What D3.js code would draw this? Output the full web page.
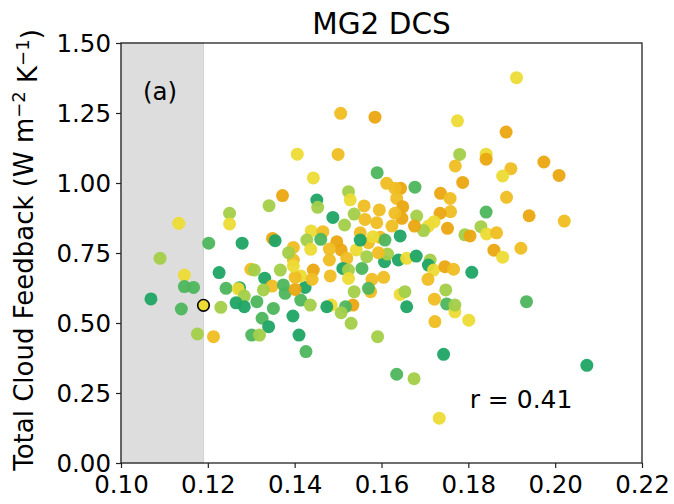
<!DOCTYPE html>
<html>
<head>
<meta charset="utf-8">
<script src="https://d3js.org/d3.v7.min.js"></script>
<style>
body { margin: 0; background: #fff; }
text { font-family: "DejaVu Sans", sans-serif; fill: #000; }
</style>
</head>
<body>
<svg id="chart" width="674" height="504"></svg>
<script>
// values
var xVals = [0.1506,0.1585,0.1775,0.1406,0.1500,0.1780,0.1770,0.1590,0.1443,0.1787,
  0.1612,0.1644,0.1631,0.1677,0.1524,0.1736,0.1758,0.1372,0.1451,0.1528,
  0.1635,0.1911,0.1887,0.1841,0.1841,0.1898,0.1879,0.1974,0.2009,0.1888,
  0.1841,0.1940,0.2021,0.1829,0.1792,0.1804,0.1842,0.1865,0.1859,0.1879,
  0.1921,0.1808,0.1934,0.1801,0.2073,0.1453,0.1560,0.1595,0.1649,0.1647,
  0.1631,0.1759,0.1735,0.1681,0.1488,0.1537,0.1562,0.1589,0.1515,0.1721,
  0.1708,0.1697,0.1752,0.1624,0.1676,0.1643,0.1551,0.1438,0.1465,0.1428,
  0.1460,0.1437,0.1397,0.1497,0.1507,0.1480,0.1542,0.1570,0.1597,0.1608,
  0.1580,0.1520,0.1480,0.1566,0.1607,0.1614,0.1593,0.1639,0.1658,0.1680,
  0.1712,0.1708,0.1720,0.1746,0.1766,0.1707,0.1748,0.1722,0.1750,0.1769,
  0.1723,0.1578,0.1605,0.1575,0.1643,0.1654,0.1658,0.1537,0.1570,0.1534,
  0.1517,0.1507,0.1484,0.1474,0.1530,0.1396,0.1410,0.1414,0.1436,0.1378,
  0.1424,0.1401,0.1443,0.1414,0.1401,0.1440,0.1397,0.1397,0.1511,0.1482,
  0.1524,0.1524,0.1555,0.1769,0.1551,0.1426,0.1591,0.1743,0.1635,0.1675,
  0.1733,0.1133,0.1090,0.1146,0.1146,0.1167,0.1069,0.1139,0.1202,0.1279,
  0.1250,0.1250,0.1341,0.1349,0.1355,0.1226,0.1299,0.1307,0.1367,0.1331,
  0.1242,0.1273,0.1270,0.1348,0.1374,0.1328,0.1284,0.1313,0.1265,0.1284,
  0.1230,0.1351,0.1325,0.1340,0.1176,0.1213,0.1301,0.1319,0.1386];
var yVals = [1.249,1.235,1.222,1.103,1.102,1.102,1.061,1.037,1.018,1.002,
  0.999,0.981,0.981,0.985,0.969,0.963,0.945,0.955,0.939,0.940,
  0.945,1.376,1.182,1.103,1.085,1.051,1.025,1.075,1.027,0.949,
  0.896,0.883,0.864,0.844,0.815,0.811,0.818,0.822,0.760,0.735,
  0.767,0.681,0.576,0.510,0.349,0.913,0.918,0.904,0.915,0.874,
  0.892,0.898,0.892,0.882,0.877,0.889,0.870,0.858,0.850,0.862,
  0.846,0.830,0.838,0.846,0.846,0.811,0.822,0.829,0.826,0.796,
  0.799,0.763,0.770,0.790,0.761,0.764,0.761,0.787,0.806,0.796,
  0.808,0.731,0.725,0.737,0.719,0.746,0.751,0.725,0.731,0.739,
  0.725,0.707,0.689,0.701,0.692,0.656,0.618,0.585,0.568,0.540,
  0.505,0.656,0.663,0.612,0.602,0.612,0.558,0.612,0.624,0.564,
  0.558,0.537,0.564,0.558,0.499,0.525,0.457,0.582,0.564,0.606,
  0.627,0.620,0.689,0.668,0.663,0.656,0.725,0.704,0.695,0.668,
  0.689,0.659,0.695,0.564,0.796,0.398,0.451,0.388,0.317,0.301,
  0.160,0.856,0.731,0.671,0.630,0.627,0.586,0.550,0.785,0.785,
  0.892,0.854,0.919,0.802,0.794,0.680,0.692,0.689,0.689,0.660,
  0.624,0.626,0.622,0.632,0.636,0.618,0.596,0.576,0.572,0.558,
  0.556,0.552,0.517,0.487,0.461,0.451,0.457,0.457,0.751];
// colour parameter, 0 = dark green ... 1 = orange
var cVals = [0.82,0.97,0.65,0.65,0.82,0.45,0.82,0.25,0.65,0.97,
  0.82,0.97,0.82,0.25,0.45,0.97,0.82,0.97,0.05,0.65,
  0.82,0.65,0.97,0.65,0.97,0.82,0.65,0.97,0.97,0.82,
  0.25,0.97,0.82,0.45,0.45,0.97,0.65,0.82,0.97,0.65,
  0.82,0.05,0.25,0.65,0.05,0.45,0.82,0.82,0.97,0.97,
  0.82,0.82,0.97,0.45,0.05,0.45,0.82,0.82,0.45,0.65,
  0.65,0.45,0.97,0.82,0.97,0.05,0.82,0.65,0.82,0.45,
  0.25,0.65,0.82,0.97,0.97,0.82,0.65,0.82,0.82,0.25,
  0.65,0.82,0.82,0.45,0.05,0.45,0.82,0.05,0.65,0.05,
  0.45,0.05,0.65,0.97,0.82,0.82,0.45,0.82,0.25,0.65,
  0.82,0.82,0.82,0.82,0.65,0.45,0.05,0.45,0.25,0.97,
  0.25,0.45,0.65,0.05,0.45,0.05,0.05,0.25,0.45,0.25,
  0.05,0.97,0.97,0.65,0.82,0.82,0.82,0.65,0.05,0.82,
  0.45,0.65,0.25,0.45,0.05,0.25,0.45,0.05,0.25,0.45,
  0.65,0.65,0.45,0.65,0.25,0.25,0.05,0.25,0.25,0.05,
  0.45,0.65,0.45,0.97,0.05,0.05,0.82,0.45,0.45,0.05,
  0.25,0.05,0.65,0.82,0.25,0.45,0.45,0.25,0.05,0.05,
  0.45,0.25,0.25,0.05,0.45,0.82,0.25,0.45,0.45];
var highlightX = [0.1190], highlightY = [0.563], highlightC = [0.65];
var xTicks = [0.10, 0.12, 0.14, 0.16, 0.18, 0.20, 0.22];
var yTicks = [0.00, 0.25, 0.50, 0.75, 1.00, 1.25, 1.50];
var shadeRange = [0.10, 0.119];

var margin = {top: 43, right: 32, bottom: 41, left: 121},
    width = 674 - margin.left - margin.right,
    height = 504 - margin.top - margin.bottom;

var svg = d3.select("#chart");
var g = svg.append("g").attr("transform", "translate(" + margin.left + "," + margin.top + ")");

var x = d3.scaleLinear().domain([0.10, 0.22]).range([0, width]);
var y = d3.scaleLinear().domain([0, 1.5]).range([height, 0]);
var colour = d3.scaleLinear()
    .domain([0, 0.25, 0.45, 0.65, 0.82, 1])
    .range(["#13a067", "#4db55c", "#a3cf49", "#ecdb34", "#efbe22", "#e9a20c"]);

// shaded band
g.append("rect")
    .attr("x", x(shadeRange[0]))
    .attr("y", 0)
    .attr("width", x(shadeRange[1]) - x(shadeRange[0]))
    .attr("height", height)
    .attr("fill", "#dddddd")
    .attr("stroke", "#d2d2d2");

var pts = xVals.map(function(d, i) { return {x: d, y: yVals[i], c: cVals[i]}; });

g.selectAll(".dot")
    .data(pts)
  .enter().append("circle")
    .attr("class", "dot")
    .attr("cx", function(d) { return x(d.x); })
    .attr("cy", function(d) { return y(d.y); })
    .attr("r", 6.5)
    .attr("fill", function(d) { return colour(d.c); })
    .attr("fill-opacity", 0.95);

g.selectAll(".hl")
    .data(highlightX)
  .enter().append("circle")
    .attr("class", "hl")
    .attr("cx", function(d) { return x(d); })
    .attr("cy", function(d, i) { return y(highlightY[i]); })
    .attr("r", 5.8)
    .attr("fill", function(d, i) { return colour(highlightC[i]); })
    .attr("stroke", "#000")
    .attr("stroke-width", 1.6);

// axes
var xAxis = g.append("g")
    .attr("transform", "translate(0," + height + ")")
    .call(d3.axisBottom(x).tickValues(xTicks).tickFormat(d3.format(".2f")).tickSize(5).tickPadding(8));
var yAxis = g.append("g")
    .call(d3.axisLeft(y).tickValues(yTicks).tickFormat(d3.format(".2f")).tickSize(5).tickPadding(5));

[xAxis, yAxis].forEach(function(a) {
  a.select(".domain").remove();
  a.selectAll(".tick line").attr("stroke", "#222").attr("stroke-width", 1.2);
  a.selectAll(".tick text").style("font-size", "24.5px").attr("fill", "#000");
});
yAxis.selectAll(".tick text").attr("dy", "0.33em");

// frame
g.append("rect")
    .attr("width", width)
    .attr("height", height)
    .attr("fill", "none")
    .attr("stroke", "#222")
    .attr("stroke-width", 1.3);

// title
svg.append("text")
    .attr("x", margin.left + width / 2)
    .attr("y", 34)
    .attr("text-anchor", "middle")
    .style("font-size", "29.5px")
    .text("MG2 DCS");

// y label
var yl = svg.append("text")
    .attr("transform", "translate(33," + 250 + ") rotate(-90)")
    .attr("text-anchor", "middle")
    .style("font-size", "26px");
yl.append("tspan").text("Total Cloud Feedback (W m");
yl.append("tspan").attr("dy", "-0.45em").style("font-size", "18px").text("\u22122");
yl.append("tspan").attr("dy", "0.45em").text(" K");
yl.append("tspan").attr("dy", "-0.45em").style("font-size", "18px").text("\u22121");
yl.append("tspan").attr("dy", "0.45em").text(")");

// annotations
g.append("text")
    .attr("x", 22)
    .attr("y", 57)
    .style("font-size", "24.5px")
    .text("(a)");
g.append("text")
    .attr("x", x(0.1803))
    .attr("y", 365)
    .style("font-size", "25px")
    .text("r = 0.41");
</script>
</body>
</html>
